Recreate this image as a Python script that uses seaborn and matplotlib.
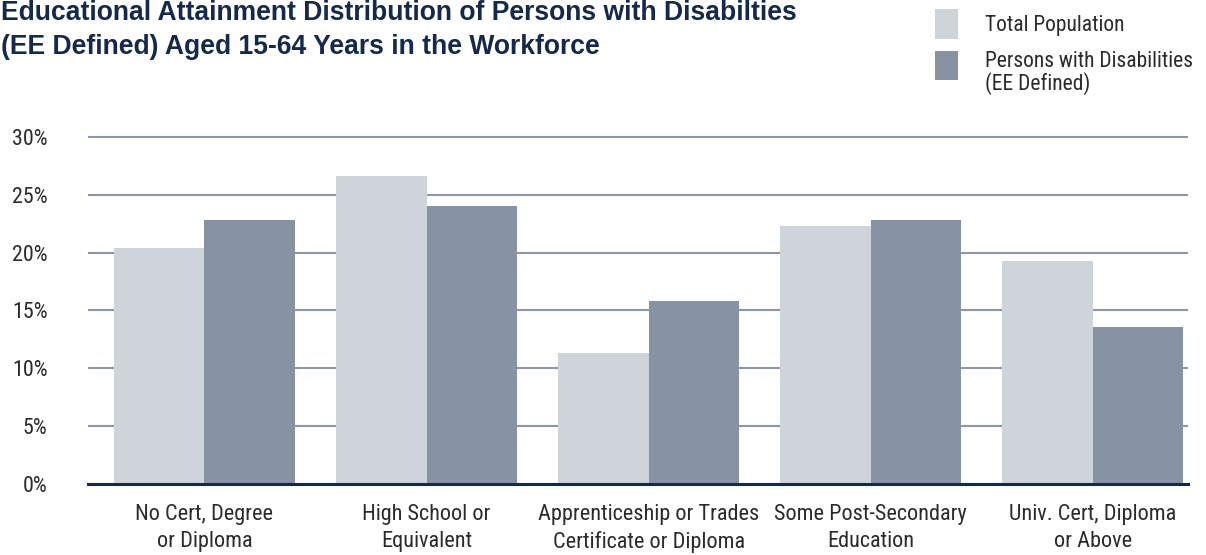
import matplotlib
matplotlib.use("Agg")
import matplotlib.pyplot as plt
from matplotlib.patches import Rectangle
from matplotlib.ticker import FixedLocator, FuncFormatter
import seaborn as sns
import pandas as pd

categories = [
    "No Cert, Degree\nor Diploma",
    "High School or\nEquivalent",
    "Apprenticeship or Trades\nCertificate or Diploma",
    "Some Post-Secondary\nEducation",
    "Univ. Cert, Diploma\nor Above",
]
total_population = [20.4, 26.6, 11.3, 22.3, 19.3]
persons_with_disabilities = [22.8, 24.0, 15.8, 22.8, 13.6]
series_names = ["Total Population", "Persons with Disabilities (EE Defined)"]
legend_lines = [["Total Population"], ["Persons with Disabilities", "(EE Defined)"]]
title_lines = [
    "Educational Attainment Distribution of Persons with Disabilties",
    "(EE Defined) Aged 15-64 Years in the Workforce",
]
y_ticks = [0, 5, 10, 15, 20, 25, 30]

LIGHT = "#cfd4db"
DARK = "#8793a2"
NAVY = "#14294b"
GRID = "#8e98a5"
TEXT = "#2b2b2b"
COND = ["Roboto Condensed", "Archivo Narrow", "IBM Plex Sans Condensed", "DejaVu Sans"]
BOLD = ["Liberation Sans", "DejaVu Sans"]

sns.set_theme(style="white")
plt.rcParams["font.family"] = COND

df = pd.DataFrame({
    "category": categories * 2,
    "value": total_population + persons_with_disabilities,
    "series": [series_names[0]] * len(categories) + [series_names[1]] * len(categories),
})

W, H = 1206, 555
fig = plt.figure(figsize=(W / 100, H / 100), dpi=100)
ymax = 30.6
px_per_pct = 11.57
base_px = 484
top_px = base_px - ymax * px_per_pct
ax = fig.add_axes([88 / W, 1 - base_px / H, 1100 / W, (base_px - top_px) / H])

sns.barplot(
    data=df, x="category", y="value", hue="series",
    palette=[LIGHT, DARK], width=0.815, saturation=1,
    legend=False, ax=ax, order=categories, hue_order=series_names,
)
for p in ax.patches:
    p.set_edgecolor("none")
    p.set_linewidth(0)

ax.set_ylim(0, ymax)
ax.set_xlim(-0.5245, 4.428)
ax.set_xlabel("")
ax.set_ylabel("")

ax.yaxis.set_major_locator(FixedLocator(y_ticks))
ax.yaxis.set_major_formatter(FuncFormatter(lambda v, _: f"{v:.0f}%"))
ax.set_axisbelow(True)
ax.yaxis.grid(True, color=GRID, linewidth=1.5)
ax.xaxis.grid(False)

for s in ["left", "right", "top"]:
    ax.spines[s].set_visible(False)
ax.spines["bottom"].set_color(NAVY)
ax.spines["bottom"].set_linewidth(2.2)
ax.spines["bottom"].set_zorder(5)

ax.tick_params(axis="y", length=0, pad=29, labelsize=15.8, labelcolor=TEXT)
ax.tick_params(axis="x", length=0, pad=14.5, labelsize=16, labelcolor=TEXT)
for lab in ax.get_xticklabels():
    lab.set_linespacing(1.36)

# title, one text per line
for line, base in zip(title_lines, [20.5, 53.5]):
    fig.text(1 / W, 1 - base / H, line, ha="left", va="baseline",
             fontsize=19.1, fontweight="bold", color=NAVY, family=BOLD)

# legend swatches and labels
for (y0, y1), color in zip([(9, 39), (51, 80)], [LIGHT, DARK]):
    fig.patches.append(Rectangle((935 / W, 1 - y1 / H), 23 / W, (y1 - y0) / H,
                                 transform=fig.transFigure, facecolor=color,
                                 edgecolor="none"))
for lines, bases in zip(legend_lines, [[30.7], [66.7, 89.5]]):
    for line, base in zip(lines, bases):
        fig.text(985 / W, 1 - base / H, line, ha="left", va="baseline",
                 fontsize=15.5, color=TEXT)

fig.savefig("out.png", dpi=100, facecolor="white")
